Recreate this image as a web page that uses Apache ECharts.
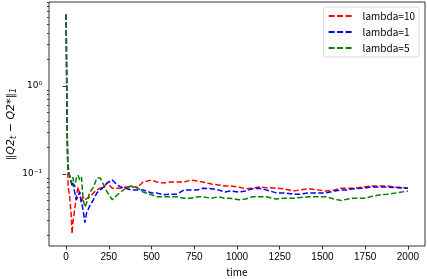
<!DOCTYPE html>
<html>
<head>
<meta charset="utf-8">
<script src="https://cdn.jsdelivr.net/npm/echarts@6/dist/echarts.min.js"></script>
<style>
  html, body { margin: 0; padding: 0; background: #fff; }
  #chart { width: 427px; height: 279px; }
</style>
</head>
<body>
<div id="chart"></div>
<script>
// time steps shared by all three runs
var times = [0, 3, 6, 9, 12, 20, 30, 35, 40, 50, 60, 70, 80, 90, 100, 110, 120, 140, 160, 180,
  200, 220, 240, 270, 300, 320, 350, 380, 420, 450, 500, 530, 570, 610, 650, 690, 730, 770, 800,
  850, 890, 930, 960, 1010, 1050, 1090, 1130, 1170, 1230, 1270, 1330, 1370, 1420, 1470, 1520,
  1570, 1610, 1650, 1680, 1740, 1780, 1840, 1880, 1930, 2000]

var lambda10 = [6.5, 1.5, 0.35, 0.15, 0.071, 0.058, 0.034, 0.021, 0.028, 0.039, 0.055, 0.071, 0.058,
  0.047, 0.055, 0.051, 0.052, 0.055, 0.061, 0.066, 0.069, 0.071, 0.079, 0.069, 0.069, 0.069, 0.071,
  0.071, 0.071, 0.081, 0.0855, 0.081, 0.079, 0.081, 0.081, 0.081, 0.0855, 0.083, 0.081, 0.077, 0.075,
  0.073, 0.073, 0.071, 0.068, 0.069, 0.071, 0.070, 0.069, 0.068, 0.064, 0.066, 0.068, 0.066, 0.064,
  0.066, 0.069, 0.069, 0.069, 0.071, 0.073, 0.073, 0.073, 0.071, 0.069]

var lambda1 = [6.5, 1.5, 0.35, 0.15, 0.120, 0.097, 0.081, 0.073, 0.079, 0.0625, 0.051, 0.056, 0.0625,
  0.047, 0.039, 0.028, 0.036, 0.044, 0.051, 0.061, 0.066, 0.071, 0.079, 0.0855, 0.075, 0.071, 0.069,
  0.066, 0.066, 0.066, 0.061, 0.061, 0.058, 0.059, 0.059, 0.066, 0.066, 0.066, 0.069, 0.068, 0.066,
  0.0625, 0.064, 0.0625, 0.064, 0.068, 0.069, 0.066, 0.061, 0.061, 0.059, 0.059, 0.061, 0.061, 0.061,
  0.064, 0.066, 0.066, 0.068, 0.069, 0.071, 0.071, 0.071, 0.070, 0.069]

var lambda5 = [6.5, 1.5, 0.35, 0.15, 0.111, 0.097, 0.079, 0.0855, 0.092, 0.071, 0.090, 0.097, 0.0855,
  0.092, 0.051, 0.042, 0.047, 0.0625, 0.071, 0.090, 0.090, 0.075, 0.0625, 0.051, 0.058, 0.0625, 0.069,
  0.073, 0.069, 0.0625, 0.058, 0.055, 0.055, 0.055, 0.055, 0.053, 0.053, 0.055, 0.055, 0.053, 0.055,
  0.053, 0.053, 0.051, 0.052, 0.055, 0.055, 0.055, 0.052, 0.053, 0.053, 0.054, 0.055, 0.055, 0.055,
  0.052, 0.050, 0.052, 0.053, 0.053, 0.055, 0.058, 0.059, 0.061, 0.064]

var xTicks = [0, 250, 500, 750, 1000, 1250, 1500, 1750, 2000]
var yMajor = [0.1, 1]
var yMinor = [0.02, 0.03, 0.04, 0.05, 0.06, 0.07, 0.08, 0.09,
  0.2, 0.3, 0.4, 0.5, 0.6, 0.7, 0.8, 0.9, 2, 3, 4, 5, 6, 7, 8, 9]
var yLabels = { '0.1': '10⁻¹', '1': '10⁰' }

var names = ['lambda=10', 'lambda=1', 'lambda=5']
var colors = ['#ff0000', '#0000ff', '#008000']
var runs = [lambda10, lambda1, lambda5]

function pairs(vals) {
  return times.map(function (t, i) { return [t, vals[i]] })
}

// three short dashes for the legend swatch
var dashIcon = 'path://M0,0h6v2h-6z M8.5,0h6v2h-6z M17,0h6v2h-6z'

var chart = echarts.init(document.getElementById('chart'))
var font = 'Liberation Sans, Arial, sans-serif'

chart.setOption({
  animation: false,
  backgroundColor: '#fff',
  grid: {
    left: 49, right: 2, top: 2, bottom: 33,
    outerBoundsMode: 'none',
    containLabel: false,
    show: true, borderColor: '#333', borderWidth: 1
  },
  legend: {
    orient: 'vertical',
    right: 8, top: 7,
    padding: [4, 4, 4, 5],
    icon: dashIcon,
    itemWidth: 23, itemHeight: 2, itemGap: 6,
    borderColor: '#d8d8d8', borderWidth: 1, borderRadius: 2,
    backgroundColor: '#fff',
    textStyle: { fontFamily: 'Noto Sans CJK SC', fontSize: 10, color: '#000', padding: [0, 0, 0, 6] },
    data: names
  },
  xAxis: {
    type: 'value',
    min: -100, max: 2100,
    name: 'time', nameLocation: 'middle', nameGap: 21,
    nameMoveOverlap: false,
    nameTextStyle: { fontFamily: 'Noto Sans CJK SC', fontSize: 10, color: '#000' },
    splitLine: { show: false },
    axisLine: { show: false },
    axisTick: { customValues: xTicks, length: 3.5, lineStyle: { color: '#333' } },
    axisLabel: {
      customValues: xTicks, fontFamily: font, fontSize: 10, color: '#000', margin: 6,
      formatter: function (v) { return String(v) }
    }
  },
  yAxis: [{
    type: 'log',
    min: 0.0152, max: 9.0,
    name: '{n|‖}{i|Q2}{s|t}{n| − }{i|Q2}{n|*}{n|‖}{s|1}',
    nameLocation: 'middle', nameGap: 31,
    nameMoveOverlap: false,
    nameTextStyle: {
      rich: {
        n: { fontFamily: 'DejaVu Sans', fontSize: 11, color: '#000' },
        i: { fontFamily: 'DejaVu Sans', fontStyle: 'italic', fontSize: 11, color: '#000' },
        s: { fontFamily: 'DejaVu Sans', fontStyle: 'italic', fontSize: 8, color: '#000', verticalAlign: 'bottom', padding: [6, 0, 0, 0] }
      }
    },
    splitLine: { show: false },
    axisLine: { show: false },
    axisTick: { customValues: yMajor, length: 3.5, lineStyle: { color: '#333' } },
    axisLabel: {
      customValues: yMajor, fontFamily: 'DejaVu Sans', fontSize: 9, color: '#000', margin: 7,
      formatter: function (v) { return yLabels[String(Math.round(v * 10) / 10)] || '' }
    }
  }, {
    type: 'log',
    min: 0.0152, max: 9.0,
    position: 'left',
    splitLine: { show: false },
    axisLine: { show: false },
    axisLabel: { show: false },
    axisTick: { customValues: yMinor, length: 2, lineStyle: { color: '#333' } }
  }],
  series: runs.map(function (vals, k) {
    return {
      name: names[k],
      type: 'line',
      yAxisIndex: 0,
      showSymbol: false,
      symbol: 'none',
      color: colors[k],
      lineStyle: { width: 1.5, type: [5.5, 2.4], color: colors[k] },
      data: pairs(vals)
    }
  })
})
</script>
</body>
</html>
